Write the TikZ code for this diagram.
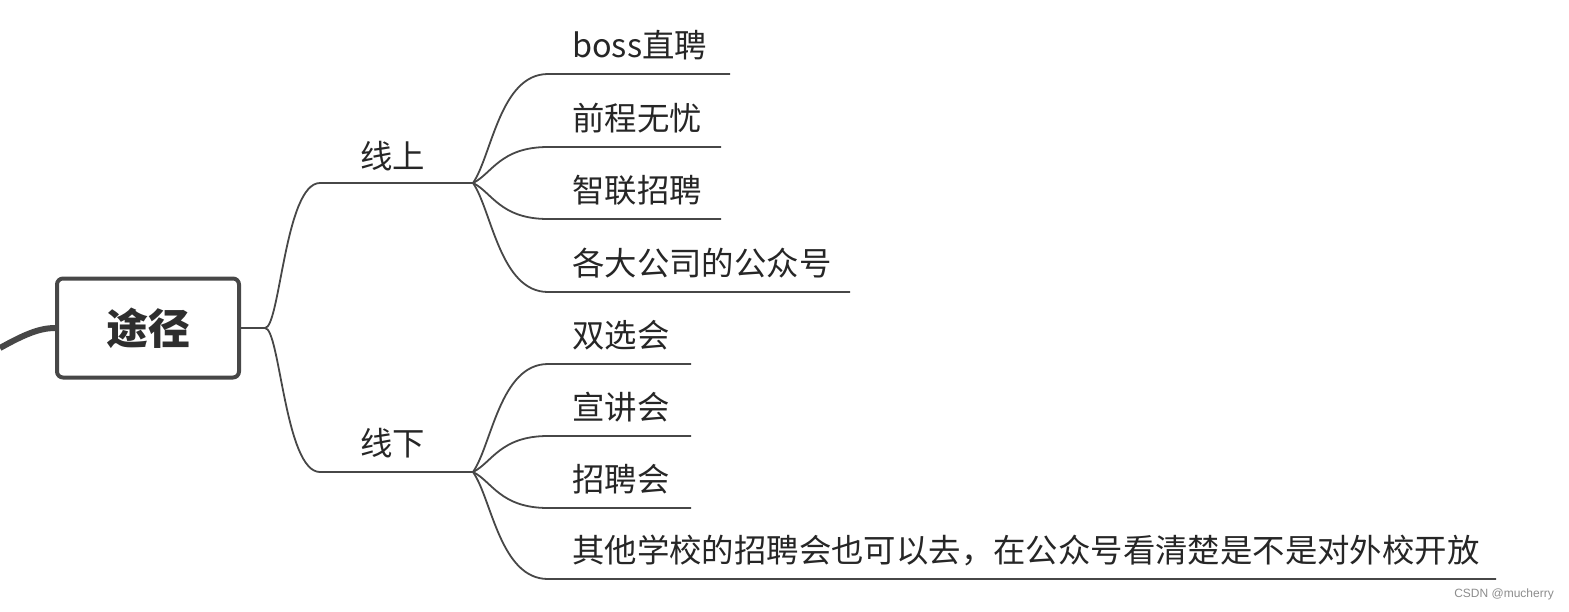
\documentclass[tikz,border=0pt]{standalone}
\usetikzlibrary{calc}
\usepackage{fontspec}
\newfontfamily\cjk{Noto Sans CJK SC}
\begin{document}
\begin{tikzpicture}[x=1pt,y=-1pt,
  ln/.style={draw=black!72,line width=1.8pt},
  lbl/.style={font=\cjk\fontsize{32.4}{35}\selectfont,text=black!85,anchor=west,inner sep=0pt},
  br/.style={ln}]
\useasboundingbox (0,0) rectangle (1569,611);
\node[draw=black!72,line width=4pt,rounded corners=6pt,fill=white,minimum width=182pt,minimum height=99pt,
  font=\cjk\bfseries\fontsize{42}{46}\selectfont,text=black!82] (root) at (148,328) {途径};
\coordinate (lin) at (0,348);
\draw[draw=black!72,line width=6pt] (lin) .. controls (25,334) and (40,328) .. (root.west);
\coordinate (r0) at (265,328);
\draw[br] (root.east) -- (r0);
% first level
\coordinate (a0) at (320,183); \coordinate (a1) at (473,183);
\coordinate (b0) at (320,472); \coordinate (b1) at (473,472);
\node[lbl] (up) at (360,156) {线上};
\node[lbl] (dn) at (360,443) {线下};
\draw[br] (r0) .. controls (280,328) and (285,183) .. (a0) -- (a1);
\draw[br] (r0) .. controls (280,328) and (285,472) .. (b0) -- (b1);
% leaves
\foreach \n/\y/\e/\t/\p in {
 l1/74/730/{boss直聘}/a1, l2/147/721/{前程无忧}/a1, l3/219/721/{智联招聘}/a1, l4/292/850/{各大公司的公众号}/a1,
 m1/364/691/{双选会}/b1, m2/436/691/{宣讲会}/b1, m3/508/691/{招聘会}/b1,
 m4/579/1496/{其他学校的招聘会也可以去，在公众号看清楚是不是对外校开放}/b1}{
  \coordinate (\n s) at (548,\y);
  \coordinate (\n e) at (\e,\y);
  \node[lbl] (\n) at (572,\y-29) {\t};
  \draw[br] (\p) .. controls ($(\p)!0.25!(\n s)$) and (500,\y) .. (\n s) -- (\n e);
}
\node[font=\fontspec{Liberation Sans}\fontsize{12}{13}\selectfont,text=black!45,anchor=east,inner sep=0pt] (wm) at (1554,594) {CSDN @mucherry};
\end{tikzpicture}
\end{document}
